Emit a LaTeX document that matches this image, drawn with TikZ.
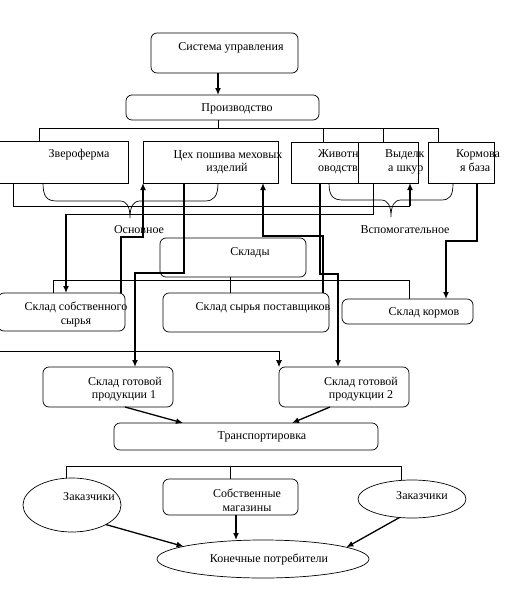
\documentclass[tikz,border=0pt]{standalone}
\usepackage{fontspec}
\setmainfont{Liberation Serif}
\usetikzlibrary{arrows.meta,shapes.geometric}
\begin{document}
\begin{tikzpicture}[x=1pt,y=-1pt,
  font=\fontsize{12}{14}\selectfont,
  bx/.style={draw,fill=white,line width=0.7pt,inner sep=0pt,outer sep=0pt},
  rbx/.style={bx,rounded corners=6pt},
  ell/.style={bx,ellipse},
  tx/.style={inner sep=0pt,anchor=base},
  txl/.style={inner sep=0pt,anchor=base west},
  ln/.style={line width=0.7pt},
  lnm/.style={line width=1.3pt},
  lnt/.style={line width=2pt},
  arr/.style={-{Latex[length=7pt,width=6pt]}}
]
\useasboundingbox (0,0) rectangle (511,613);
\fill[white] (0,0) rectangle (511,613);

% ---- boxes ----
\node[rbx,minimum width=147pt,minimum height=40pt] (sys) at (224.5,53) {};
\node[tx] (syst) at (231,50) {Система управления};
\node[rbx,minimum width=193pt,minimum height=25pt] (prod) at (222.5,107.5) {};
\node[tx] (prodt) at (237,111) {Производство};

\node[bx,minimum width=130pt,minimum height=42pt] (zver) at (63,162) {};
\node[tx] (zvert) at (79,157) {Звероферма};
\node[bx,minimum width=135pt,minimum height=42pt] (ceh) at (210.5,162) {};
\node[tx] (ceht1) at (228,158) {Цех пошива меховых};
\node[tx] (ceht2) at (227,171) {изделий};
\node[bx,minimum width=72pt,minimum height=41pt] (zhiv) at (327,162.5) {};
\node[txl] (zhivt1) at (318,157) {Животн};
\node[txl] (zhivt2) at (318,171) {оводств};
\node[bx,minimum width=60pt,minimum height=41pt] (vydel) at (388,162.5) {};
\node[txl] (vydelt1) at (385,157) {Выделк};
\node[txl] (vydelt2) at (388,171) {а шкур};
\node[bx,minimum width=66pt,minimum height=41pt] (korm) at (461,162.5) {};
\node[txl] (kormt1) at (456,157) {Кормова};
\node[txl] (kormt2) at (460,171) {я база};

\node[rbx,minimum width=146pt,minimum height=39pt] (sklady) at (233,257.5) {};
\node[tx] (skladyt) at (250,255) {Склады};
\node[rbx,minimum width=127pt,minimum height=38pt] (sss) at (61.5,312) {};
\node[tx] (ssst1) at (76,310) {Склад собственного};
\node[tx] (ssst2) at (76,324) {сырья};
\node[rbx,minimum width=166pt,minimum height=39pt] (ssp) at (246,312.5) {};
\node[tx] (sspt) at (263,310) {Склад сырья поставщиков};
\node[rbx,minimum width=131pt,minimum height=25pt] (skorm) at (407.5,311.5) {};
\node[tx] (skormt) at (424,315) {Склад кормов};

\node[rbx,minimum width=130pt,minimum height=40pt] (sgp1) at (108,387) {};
\node[tx] (sgp1t1) at (125,385) {Склад готовой};
\node[tx] (sgp1t2) at (124,398) {продукции 1};
\node[rbx,minimum width=130pt,minimum height=40pt] (sgp2) at (344,387) {};
\node[tx] (sgp2t1) at (361,385) {Склад готовой};
\node[tx] (sgp2t2) at (361,398) {продукции 2};
\node[rbx,minimum width=264pt,minimum height=27pt] (transp) at (246,436.5) {};
\node[tx] (transpt) at (262,439) {Транспортировка};

\node[ell,minimum width=98pt,minimum height=54pt] (zak1) at (72,505) {};
\node[tx] (zak1t) at (89,500) {Заказчики};
\node[rbx,minimum width=135pt,minimum height=36pt] (shops) at (230.5,497) {};
\node[tx] (shopst1) at (247,497) {Собственные};
\node[tx] (shopst2) at (247,511) {магазины};
\node[ell,minimum width=108pt,minimum height=38pt] (zak2) at (412,499) {};
\node[tx] (zak2t) at (422,499) {Заказчики};
\node[ell,minimum width=212pt,minimum height=38pt] (cons) at (263,559) {};
\node[tx] (const) at (269,562) {Конечные потребители};

% ---- top ----
\draw[lnt,arr] (218,0 |- sys.south) -- (218,0 |- prod.north);
\draw[ln] (218,0 |- prod.south) -- (218,128);
\draw[ln] (39,0 |- zver.north) -- (39,128) -- (438,128) -- (438,0 |- korm.north);
\draw[ln] (323,128) -- (323,0 |- zhiv.north);
\draw[ln] (383,128) -- (383,0 |- vydel.north);

% ---- braces ----
\draw[ln] (43,0 |- zver.south) .. controls (43,197) and (47,201) .. (57,201) -- (120,201)
  .. controls (127,201) and (130,207) .. (130,218)
  .. controls (130,207) and (133,201) .. (140,201) -- (205,201)
  .. controls (214,201) and (218,196) .. (218,0 |- ceh.south);
\draw[ln] (329,0 |- zhiv.south) .. controls (329,196) and (333,200) .. (343,200) -- (381,200)
  .. controls (388,200) and (391,206) .. (391,217)
  .. controls (391,206) and (394,200) .. (401,200) -- (441,200)
  .. controls (450,200) and (453,196) .. (453,0 |- korm.south);
\node[tx] (osn) at (139,233) {Основное};
\node[tx] (vsp) at (405,233) {Вспомогательное};

% ---- flows ----
\draw[ln] (13,0 |- zver.south) -- (13,206) -- (410,206);
\draw[lnt,arr] (410,206) -- (410,0 |- vydel.south);
\draw[ln] (373,0 |- vydel.south) -- (373,214) -- (66,214);
\draw[lnt,arr] (66,214) -- (66,0 |- sss.north);
\draw[lnt,arr] (121,0 |- sss.north) -- (121,237) -- (143,237) -- (143,0 |- ceh.south);
\draw[lnt,arr] (323,0 |- ssp.north) -- (323,236) -- (263,236) -- (263,0 |- ceh.south);
\draw[lnm,arr] (184,0 |- ceh.south) -- (184,273) -- (135,273) -- (135,0 |- sgp1.north);
\draw[lnm,arr] (320,0 |- zhiv.south) -- (320,274) -- (338,274) -- (338,0 |- sgp2.north);
\draw[lnt,arr] (477,0 |- korm.south) -- (477,241) -- (446,241) -- (446,0 |- skorm.north);

\draw[ln] (53,0 |- sss.north) -- (53,280) -- (409,280) -- (409,0 |- skorm.north);
\draw[ln] (230,0 |- sklady.south) -- (230,0 |- ssp.north);

\coordinate (lft) at (0,351);
\draw[ln,arr] (lft) -- (279,351) -- (279,0 |- sgp2.north);

\draw[lnm,arr] (125,0 |- sgp1.south) -- (183,0 |- transp.north);
\draw[lnm,arr] (330,0 |- sgp2.south) -- (292,0 |- transp.north);

% ---- bottom ----
\draw[ln] (66,0 |- zak1.north) -- (66,466) -- (401,466) -- (401,0 |- zak2.north);
\draw[ln] (230,466) -- (230,0 |- shops.north);
\draw[lnm,arr] (zak1.330) -- (cons.171);
\draw[lnm,arr] (236,0 |- shops.south) -- (236,0 |- cons.north);
\draw[lnm,arr] (zak2.236) -- (cons.8);
\end{tikzpicture}
\end{document}
